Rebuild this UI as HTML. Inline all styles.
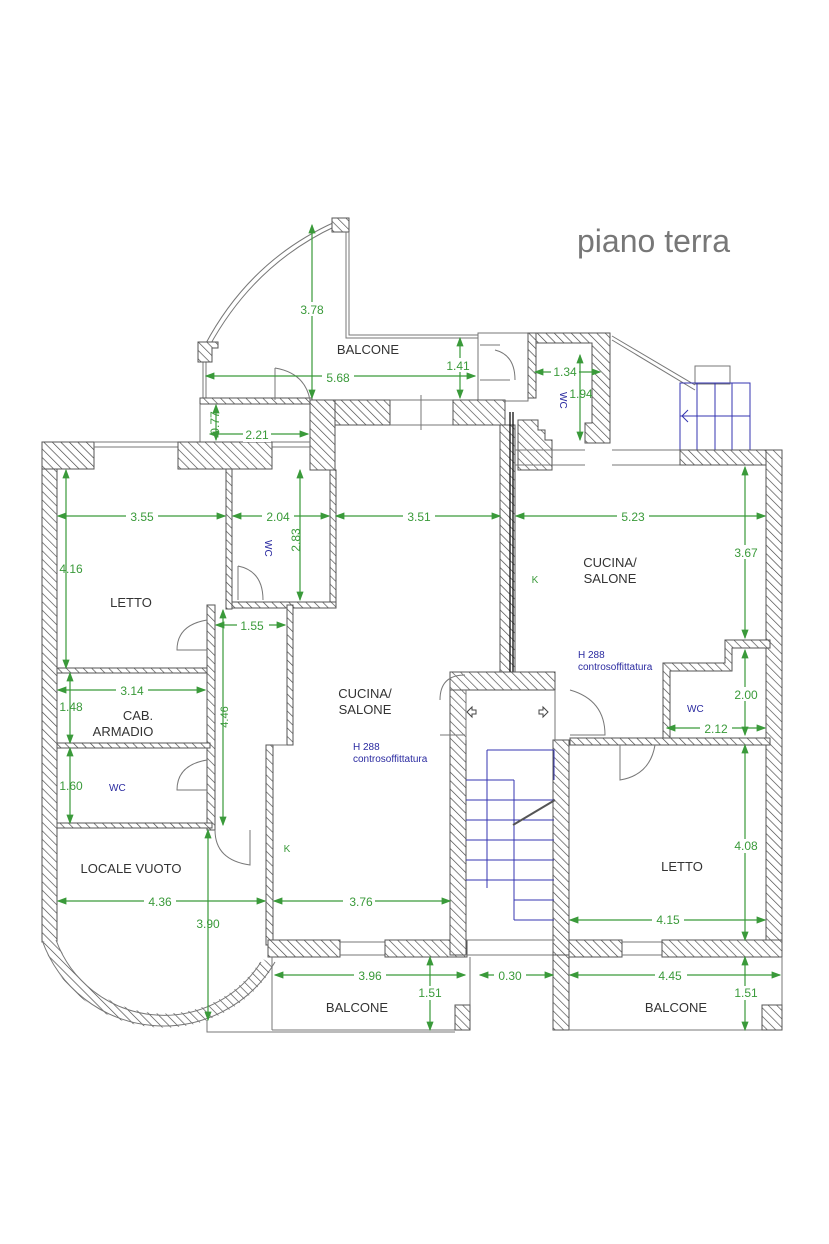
<!DOCTYPE html>
<html><head><meta charset="utf-8"><style>
html,body{margin:0;padding:0;background:#fff;}
svg{display:block;}
text{font-family:"Liberation Sans",sans-serif;}
.w{fill:url(#h);stroke:#555;stroke-width:1;}
.l{fill:none;stroke:#777;stroke-width:1;}
.d{stroke:#3a9a3a;stroke-width:1.2;fill:none;}
.t{fill:#3a9a3a;font-size:12px;}
.n{fill:#333;font-size:13px;}
.b{fill:#2a2aa0;font-size:10px;}
.s{stroke:#3434b0;stroke-width:1;fill:none;}
</style></head><body>
<svg width="829" height="1244" viewBox="0 0 829 1244" xmlns="http://www.w3.org/2000/svg">
<defs>
<pattern id="h" width="6" height="6" patternUnits="userSpaceOnUse" patternTransform="rotate(-45)">
<rect width="6" height="6" fill="#fff"/><line x1="0" y1="0" x2="0" y2="6" stroke="#444" stroke-width="1.3"/>
</pattern>
<marker id="a" markerWidth="8" markerHeight="6" refX="7" refY="3" orient="auto-start-reverse"><path d="M0,0 L8,3 L0,6z" fill="#3a9a3a"/></marker>
</defs>
<text x="577" y="252" style="font-size:32px;fill:#777">piano terra</text>

<!-- top balcony -->
<path class="l" d="M203,362 L203,400 M206,362 L206,400"/>
<path class="l" d="M205,345 Q250,260 335,222 M209,347 Q254,264 336,226"/>
<rect class="w" x="332" y="218" width="17" height="14"/>
<path class="w" d="M198,342 h20 v6 h-6 v14 h-14z"/>
<path class="l" d="M346,232 V338 H478 M349,232 V335 H478"/>
<rect class="w" x="200" y="398" width="112" height="6"/>
<path class="l" d="M200,404 V442 M275,368 v32 M275,368 q30,5 35,32"/>
<rect class="l" x="478" y="333" width="50" height="68"/>
<path class="l" d="M480,345 h20 M480,380 h30 M495,350 q20,5 20,30"/>
<!-- right top wc -->
<path class="w" d="M528,333 h82 v110 h-25 v-20 h7 v-80 h-62z"/>
<path class="w" d="M528,333 h8 v65 h-8z"/>
<path class="w" d="M518,420 h20 v10 h7 v10 h7 v30 h-34z"/>
<path class="l" d="M612,336 L695,385 M612,340 L695,390"/>
<rect class="l" x="695" y="366" width="35" height="18"/>
<g class="s"><rect x="680" y="383" width="70" height="67"/><path d="M697,383v67 M715,383v67 M732,383v67 M680,416h70 M688,410l-6,6 6,6"/></g>

<!-- central top wall -->
<rect class="w" x="310" y="400" width="80" height="25"/>
<path class="l" d="M390,400h63 M390,425h63 M421,395v35"/>
<rect class="w" x="453" y="400" width="52" height="25"/>
<rect class="w" x="310" y="400" width="25" height="70"/>
<rect class="w" x="330" y="470" width="6" height="138"/>
<!-- middle wall double line -->
<rect class="w" x="500" y="425" width="15" height="248"/>
<path d="M510,412 L510,690 M513,412 L513,690" stroke="#111" stroke-width="1.3"/>

<!-- left block -->
<rect class="w" x="42" y="442" width="15" height="500"/>
<rect class="w" x="42" y="442" width="52" height="27"/>
<path class="l" d="M94,442h84 M94,447h84 M272,442h38 M272,447h38"/>
<rect class="w" x="178" y="442" width="94" height="27"/>
<rect class="w" x="226" y="469" width="6" height="140"/>
<rect class="w" x="232" y="602" width="104" height="6"/>
<path class="l" d="M238,600 v-34 M238,566 q25,5 25,34"/>
<rect class="w" x="207" y="605" width="8" height="225"/>
<rect class="w" x="287" y="605" width="6" height="140"/>
<rect class="w" x="266" y="745" width="7" height="200"/>
<path class="l" d="M273,745 h14"/>
<rect class="w" x="57" y="668" width="150" height="5"/>
<rect class="w" x="57" y="743" width="153" height="5"/>
<rect class="w" x="57" y="823" width="155" height="5"/>
<path class="l" d="M207,650 h-30 q0,-25 30,-30 M207,790 h-30 q0,-25 30,-30 M215,830 q0,30 35,35 v-35"/>
<!-- curve -->
<path d="M49,940 A122,122 0 0,0 268,962" fill="none" stroke="url(#h)" stroke-width="14"/>
<path class="l" d="M42,940 A129,129 0 0,0 275,962 M56,940 A115,115 0 0,0 261,962"/>
<path class="l" d="M207,1020 V1032 H455"/>

<!-- bottom walls center -->
<rect class="w" x="268" y="940" width="72" height="17"/>
<path class="l" d="M340,942h45 M340,955h45"/>
<rect class="w" x="385" y="940" width="82" height="17"/>
<!-- stair -->
<rect class="w" x="450" y="672" width="105" height="18"/>
<rect class="w" x="450" y="690" width="16" height="265"/>
<rect class="w" x="553" y="740" width="16" height="215"/>
<path class="l" d="M466,690 v50 M555,690v50 M440,700 q0,-25 25,-25 M440,735h25 M570,735h35 q0,-35 -35,-45"/>
<path d="M467,712 l5,-5 v3 h4 v4 h-4 v3z M548,712 l-5,-5 v3 h-4 v4 h4 v3z" fill="#fff" stroke="#444"/>
<g class="s">
<path d="M487,750 h67 v30 M487,750 v138 M466,780 h48 M466,800h48 M466,820h48 M466,840h48 M466,860h48 M466,880h48 M514,800h40 M514,820h40 M514,840h40 M514,860h40 M514,880h40 M514,900h40 M514,920h40 M514,780v140"/>
</g>
<path d="M513,825 L555,800" stroke="#555" stroke-width="2"/>
<path class="l" d="M466,940h89 M466,955h89"/>

<!-- right block -->
<path class="l" d="M515,450 h70 M515,465 h70 M612,450h68 M612,465h68"/>
<rect class="w" x="680" y="450" width="102" height="15"/>
<rect class="w" x="766" y="450" width="16" height="505"/>
<path class="w" d="M663,663 h62 v-23 h45 v8 h-38 v23 h-62 v72 h-7z"/>
<rect class="w" x="570" y="738" width="200" height="7"/>
<path class="l" d="M620,745 v35 q30,-5 35,-35"/>
<rect class="w" x="569" y="940" width="53" height="17"/>
<path class="l" d="M622,942h40 M622,955h40"/>
<rect class="w" x="662" y="940" width="120" height="17"/>

<!-- bottom balconies -->
<path class="l" d="M272,957 V1030 M470,957 V1030 M272,1030 H470"/>
<rect class="w" x="455" y="1005" width="15" height="25"/>
<rect class="w" x="553" y="955" width="16" height="75"/>
<path class="l" d="M569,1030 H782 V957"/>
<rect class="w" x="762" y="1005" width="20" height="25"/>

<!-- dimensions -->
<g class="d" marker-start="url(#a)" marker-end="url(#a)">
<line x1="312" y1="225" x2="312" y2="398"/>
<line x1="206" y1="376" x2="475" y2="376"/>
<line x1="460" y1="338" x2="460" y2="398"/>
<line x1="535" y1="372" x2="600" y2="372"/>
<line x1="580" y1="355" x2="580" y2="440"/>
<line x1="216" y1="405" x2="216" y2="440"/>
<line x1="210" y1="434" x2="308" y2="434"/>
<line x1="58" y1="516" x2="225" y2="516"/>
<line x1="233" y1="516" x2="329" y2="516"/>
<line x1="66" y1="470" x2="66" y2="668"/>
<line x1="300" y1="470" x2="300" y2="600"/>
<line x1="336" y1="516" x2="500" y2="516"/>
<line x1="516" y1="516" x2="765" y2="516"/>
<line x1="745" y1="467" x2="745" y2="638"/>
<line x1="745" y1="650" x2="745" y2="735"/>
<line x1="667" y1="728" x2="765" y2="728"/>
<line x1="216" y1="625" x2="285" y2="625"/>
<line x1="223" y1="610" x2="223" y2="825"/>
<line x1="58" y1="690" x2="205" y2="690"/>
<line x1="70" y1="673" x2="70" y2="743"/>
<line x1="70" y1="748" x2="70" y2="823"/>
<line x1="58" y1="901" x2="265" y2="901"/>
<line x1="208" y1="830" x2="208" y2="1020"/>
<line x1="274" y1="901" x2="450" y2="901"/>
<line x1="275" y1="975" x2="465" y2="975"/>
<line x1="430" y1="957" x2="430" y2="1030"/>
<line x1="570" y1="920" x2="765" y2="920"/>
<line x1="745" y1="745" x2="745" y2="940"/>
<line x1="570" y1="975" x2="780" y2="975"/>
<line x1="745" y1="957" x2="745" y2="1030"/>
<line x1="480" y1="975" x2="553" y2="975"/>
</g>
<g class="t" text-anchor="middle">
<rect x="296" y="302" width="32" height="14" fill="#fff"/><text x="312" y="314">3.78</text>
<rect x="322" y="370" width="32" height="14" fill="#fff"/><text x="338" y="382">5.68</text>
<rect x="444" y="358" width="32" height="14" fill="#fff"/><text x="458" y="370">1.41</text>
<rect x="551" y="366" width="28" height="14" fill="#fff"/><text x="565" y="376">1.34</text>
<text x="581" y="398">1.94</text>
<text x="219" y="423" transform="rotate(-90 219 423)">0.77</text>
<rect x="243" y="428" width="28" height="14" fill="#fff"/><text x="257" y="439">2.21</text>
<rect x="126" y="510" width="32" height="14" fill="#fff"/><text x="142" y="521">3.55</text>
<rect x="262" y="510" width="32" height="14" fill="#fff"/><text x="278" y="521">2.04</text>
<text x="71" y="573">4.16</text>
<text x="300" y="540" transform="rotate(-90 300 540)">2.83</text>
<rect x="403" y="510" width="32" height="14" fill="#fff"/><text x="419" y="521">3.51</text>
<rect x="617" y="510" width="32" height="14" fill="#fff"/><text x="633" y="521">5.23</text>
<rect x="730" y="545" width="32" height="14" fill="#fff"/><text x="746" y="557">3.67</text>
<rect x="730" y="687" width="32" height="14" fill="#fff"/><text x="746" y="699">2.00</text>
<rect x="700" y="722" width="32" height="14" fill="#fff"/><text x="716" y="733">2.12</text>
<rect x="237" y="619" width="32" height="14" fill="#fff"/><text x="252" y="630">1.55</text>
<text x="228" y="717" transform="rotate(-90 228 717)" style="font-size:11px">4.46</text>
<rect x="116" y="684" width="32" height="14" fill="#fff"/><text x="132" y="695">3.14</text>
<text x="71" y="711">1.48</text>
<text x="71" y="790">1.60</text>
<rect x="144" y="895" width="32" height="14" fill="#fff"/><text x="160" y="906">4.36</text>
<text x="208" y="928">3.90</text>
<rect x="343" y="895" width="32" height="14" fill="#fff"/><text x="361" y="906">3.76</text>
<rect x="354" y="969" width="32" height="14" fill="#fff"/><text x="370" y="980">3.96</text>
<rect x="414" y="986" width="32" height="14" fill="#fff"/><text x="430" y="997">1.51</text>
<rect x="494" y="969" width="32" height="14" fill="#fff"/><text x="510" y="980">0.30</text>
<rect x="652" y="914" width="32" height="14" fill="#fff"/><text x="668" y="924">4.15</text>
<rect x="730" y="839" width="32" height="14" fill="#fff"/><text x="746" y="850">4.08</text>
<rect x="655" y="969" width="32" height="14" fill="#fff"/><text x="670" y="980">4.45</text>
<rect x="730" y="986" width="32" height="14" fill="#fff"/><text x="746" y="997">1.51</text>
<text x="287" y="852" style="font-size:10px">K</text>
<text x="535" y="583" style="font-size:10px">K</text>
</g>

<!-- labels -->
<g class="n" text-anchor="middle">
<text x="368" y="354">BALCONE</text>
<text x="131" y="607">LETTO</text>
<text x="138" y="720">CAB.</text>
<text x="123" y="736">ARMADIO</text>
<text x="131" y="873">LOCALE VUOTO</text>
<text x="365" y="698">CUCINA/</text>
<text x="365" y="714">SALONE</text>
<text x="610" y="567">CUCINA/</text>
<text x="610" y="583">SALONE</text>
<text x="682" y="871">LETTO</text>
<text x="357" y="1012">BALCONE</text>
<text x="676" y="1012">BALCONE</text>
</g>
<g class="b">
<text x="109" y="791">WC</text>
<text x="687" y="712">WC</text>
<text x="265" y="540" transform="rotate(90 265 540)">WC</text>
<text x="560" y="392" transform="rotate(90 560 392)">WC</text>
<text x="353" y="750">H 288</text>
<text x="353" y="762">controsoffittatura</text>
<text x="578" y="658">H 288</text>
<text x="578" y="670">controsoffittatura</text>
</g>
</svg>
</body></html>
